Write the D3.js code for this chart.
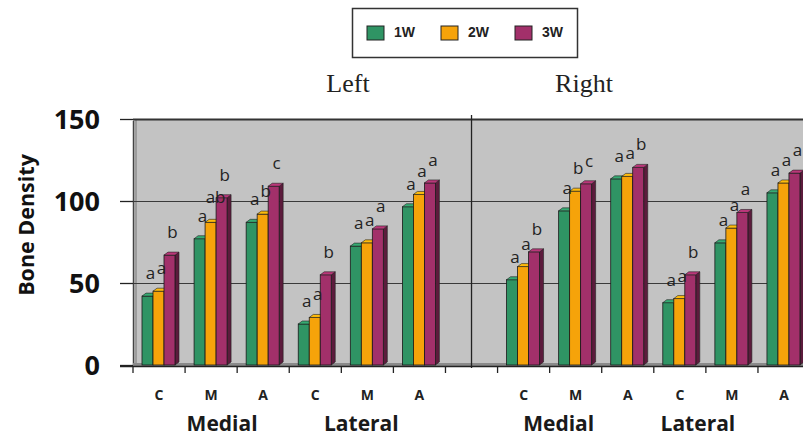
<!DOCTYPE html>
<html>
<head>
<meta charset="utf-8">
<script src="https://cdn.jsdelivr.net/npm/d3@7"></script>
<style>
  html, body { margin: 0; padding: 0; background: #fff; overflow: hidden; }
  svg { display: block; }
</style>
</head>
<body>
<svg id="chart" width="803" height="436"></svg>
<script>
// ---- data ----
const sides = ["Left", "Right"];
const regions = ["Medial", "Lateral"];
const sites = ["C", "M", "A"];
const seriesNames = ["1W", "2W", "3W"];
const seriesColors = ["#2f9464", "#f6a30a", "#a2306a"];
const yTicks = [0, 50, 100, 150];

// order: Left Medial C,M,A, Left Lateral C,M,A, Right Medial C,M,A, Right Lateral C,M,A
const w1 = [42, 77, 87, 25, 72.5, 96.5, 52, 94, 113.5, 38, 74.5, 105];
const w2 = [45, 87, 92, 29, 74.5, 104, 60, 106, 115, 40.5, 83.5, 111];
const w3 = [67, 102, 109, 55, 83, 111, 69, 110.5, 120.5, 55, 93, 117];

const l1 = ["a", "a", "a", "a", "a", "a", "a", "a", "a", "a", "a", "a"];
const l2 = ["a", "ab", "b", "a", "a", "a", "a", "b", "a", "a", "a", "a"];
const l3 = ["b", "b", "c", "b", "a", "a", "b", "c", "b", "b", "a", "a"];

const values = [w1, w2, w3];
const letters = [l1, l2, l3];

// ---- layout ----
const svg = d3.select("#chart");
const pLeft = 133, pTop = 119, pBottom = 365;
const nSlots = 13;
const slotW = 52.08;

// categories with a gap slot between Left and Right
const cats = [];
sides.forEach((s, si) => {
  regions.forEach(r => sites.forEach(site => cats.push({side: s, region: r, site: site})));
  if (si === 0) cats.push(null);
});
const slotIdx = d3.range(nSlots);
const x = d3.scaleBand().domain(slotIdx).range([pLeft, pLeft + nSlots * slotW]).paddingInner(0).paddingOuter(0);
const xs = d3.scaleBand().domain(d3.range(3)).range([9, 42]).padding(0);
const y = d3.scaleLinear().domain([0, 150]).range([pBottom, pTop]);

const plotRight = pLeft + nSlots * slotW;

// plot background (back wall)
svg.append("rect").attr("x", pLeft).attr("y", pTop).attr("width", plotRight - pLeft).attr("height", pBottom - pTop)
  .attr("fill", "#c3c3c3");
// left wall edge
svg.append("line").attr("x1", pLeft + 0.5).attr("x2", pLeft + 0.5).attr("y1", pTop + 2).attr("y2", pBottom + 1)
  .attr("stroke", "#444").attr("stroke-width", 1.5);
svg.append("line").attr("x1", pLeft + 3).attr("x2", pLeft + 3).attr("y1", pTop).attr("y2", pBottom - 2)
  .attr("stroke", "#777").attr("stroke-width", 1);
// floor
svg.append("rect").attr("x", pLeft).attr("y", pBottom - 2).attr("width", plotRight - pLeft).attr("height", 3)
  .attr("fill", "#8a8a8a");

// gridlines
svg.append("g").selectAll("line").data(yTicks.filter(d => d > 0)).join("line")
  .attr("x1", pLeft).attr("x2", plotRight)
  .attr("y1", d => Math.round(y(d)) + 0.5).attr("y2", d => Math.round(y(d)) + 0.5)
  .attr("stroke", d => d === 150 ? "#333" : "#3a3a3a").attr("stroke-width", d => d === 150 ? 2 : 1.2);

// y axis
const yAxis = d3.axisLeft(y).tickValues(yTicks).tickSize(13).tickPadding(20);
const gy = svg.append("g").attr("transform", `translate(${pLeft},0)`).call(yAxis);
gy.select(".domain").remove();
gy.selectAll(".tick line").attr("stroke", "#222").attr("stroke-width", 1.3);
gy.selectAll(".tick text").attr("font-family", "'Open Sans', sans-serif").attr("font-weight", "bold")
  .attr("font-size", 27).attr("fill", "#111").attr("dy", "0.36em");

// x axis line and ticks
svg.append("line").attr("x1", pLeft - 13).attr("x2", plotRight).attr("y1", pBottom + 1.5).attr("y2", pBottom + 1.5)
  .attr("stroke", "#222").attr("stroke-width", 1.3);
const tickPos = d3.range(nSlots + 1).map(i => pLeft + i * slotW);
svg.append("g").selectAll("line").data(tickPos).join("line")
  .attr("x1", d => d).attr("x2", d => d).attr("y1", pBottom + 1).attr("y2", pBottom + 8)
  .attr("stroke", "#222").attr("stroke-width", 1.3);
// divider between Left and Right
const divX = x(6) + x.bandwidth() / 2;
svg.append("line").attr("x1", divX).attr("x2", divX).attr("y1", 115).attr("y2", pBottom + 3)
  .attr("stroke", "#222").attr("stroke-width", 1.3);

// bars (3D style)
const dx = 4, dy = 3;
const barW = xs.bandwidth();
const gBars = svg.append("g");
const barData = [];
let k = 0;
cats.forEach((c, i) => {
  if (!c) return;
  for (let s = 0; s < 3; s++) {
    barData.push({slot: i, s: s, v: values[s][k], letter: letters[s][k]});
  }
  k++;
});
barData.forEach(d => {
  const x0 = x(d.slot) + xs(d.s);
  const yt = y(d.v);
  const col = d3.color(seriesColors[d.s]);
  const g = gBars.append("g");
  g.append("path").attr("d", `M${x0 + barW},${yt} L${x0 + barW + dx},${yt - dy} L${x0 + barW + dx},${pBottom - dy} L${x0 + barW},${pBottom} Z`)
    .attr("fill", col.darker(1.6)).attr("stroke", "#222").attr("stroke-width", 0.6);
  g.append("rect").attr("x", x0).attr("y", yt).attr("width", barW).attr("height", pBottom - yt)
    .attr("fill", seriesColors[d.s]).attr("stroke", "#1a1a1a").attr("stroke-width", 0.8);
  g.append("path").attr("d", `M${x0},${yt} L${x0 + dx},${yt - dy} L${x0 + barW + dx},${yt - dy} L${x0 + barW},${yt} Z`)
    .attr("fill", col.brighter(0.4)).attr("stroke", "#222").attr("stroke-width", 0.6);
});

// significance letters
svg.append("g").selectAll("text").data(barData).join("text")
  .attr("x", d => x(d.slot) + xs(d.s) + barW / 2 + (d.letter.length > 1 ? 5 : 3))
  .attr("y", d => y(d.v) - (d.letter.length > 1 ? 19 : 17))
  .attr("text-anchor", "middle")
  .attr("font-family", "'Open Sans', sans-serif").attr("font-size", 17)
  .attr("fill", "#222")
  .text(d => d.letter);

// category labels
svg.append("g").selectAll("text").data(cats.map((c, i) => ({c, i})).filter(d => d.c)).join("text")
  .attr("x", d => x(d.i) + x.bandwidth() / 2)
  .attr("y", 400)
  .attr("text-anchor", "middle")
  .attr("font-family", "'Open Sans', sans-serif").attr("font-weight", "bold").attr("font-size", 14)
  .attr("fill", "#222")
  .text(d => d.c.site);

// region labels
const regionLabels = [];
cats.forEach((c, i) => { if (c && c.site === "M") regionLabels.push({text: c.region, i}); });
svg.append("g").selectAll("text").data(regionLabels).join("text")
  .attr("x", (d, j) => x(d.i) + x.bandwidth() / 2 + (d.text === "Medial" ? 11 : -6) - (j >= 2 ? 28 : 0))
  .attr("y", 431)
  .attr("text-anchor", "middle")
  .attr("font-family", "'Open Sans', sans-serif").attr("font-weight", "bold").attr("font-size", 21)
  .attr("fill", "#1a1a1a")
  .text(d => d.text);

// side labels
const sideX = [348, 584];
svg.append("g").selectAll("text").data(sides).join("text")
  .attr("x", (d, i) => sideX[i]).attr("y", 92)
  .attr("text-anchor", "middle")
  .attr("font-family", "'Liberation Serif', 'Times New Roman', serif").attr("font-size", 26)
  .attr("fill", "#222")
  .text(d => d);

// y axis title
svg.append("text").attr("transform", "translate(34,225) rotate(-90)")
  .attr("text-anchor", "middle")
  .attr("font-family", "'Open Sans', sans-serif").attr("font-weight", "bold").attr("font-size", 21.5)
  .attr("fill", "#111")
  .text("Bone Density");

// legend
const lg = svg.append("g");
lg.append("rect").attr("x", 352.5).attr("y", 8.5).attr("width", 225).attr("height", 49)
  .attr("fill", "#fff").attr("stroke", "#333").attr("stroke-width", 1.5);
const legX = [367, 441, 515];
seriesNames.forEach((n, i) => {
  lg.append("rect").attr("x", legX[i]).attr("y", 26).attr("width", 17).attr("height", 14)
    .attr("fill", seriesColors[i]).attr("stroke", "#222").attr("stroke-width", 1);
  lg.append("text").attr("x", legX[i] + 27).attr("y", 37)
    .attr("font-family", "'Liberation Sans', Arial, sans-serif").attr("font-weight", "bold").attr("font-size", 14)
    .attr("fill", "#222").text(n);
});
</script>
</body>
</html>
